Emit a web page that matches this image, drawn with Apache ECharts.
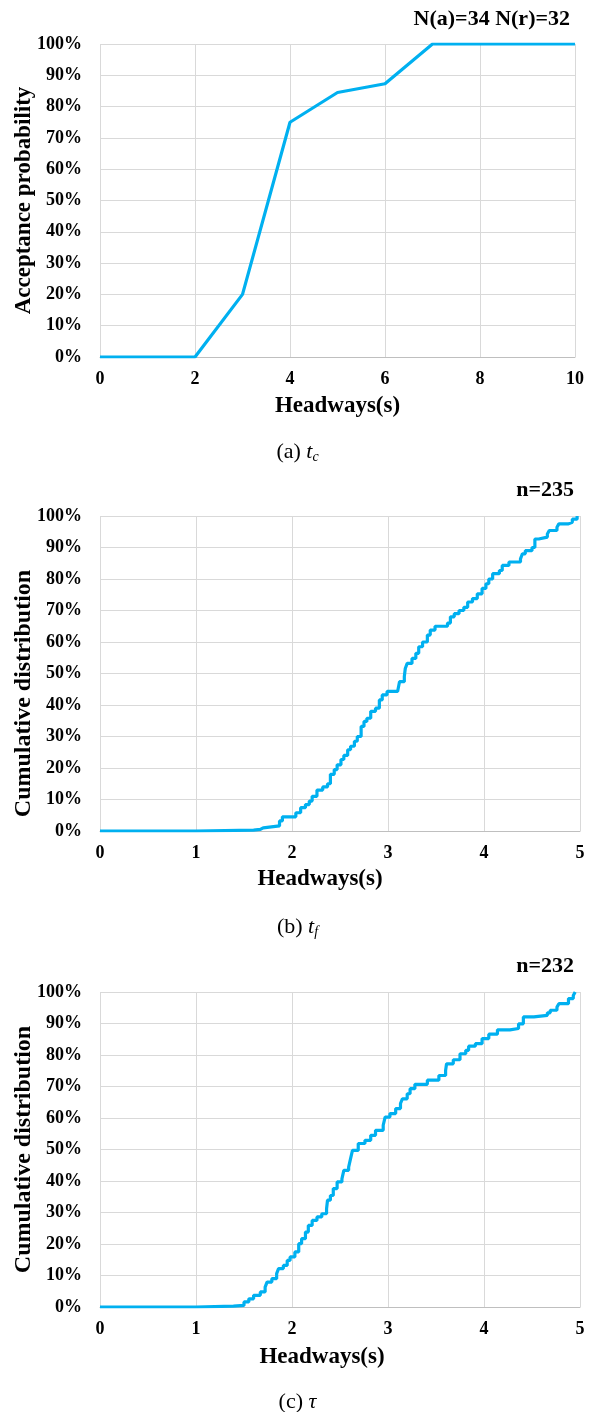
<!DOCTYPE html>
<html>
<head>
<meta charset="utf-8">
<script src="https://cdn.jsdelivr.net/npm/echarts@6/dist/echarts.min.js"></script>
<style>
html, body { margin: 0; padding: 0; background: #fff; }
#main { width: 595px; height: 1412px; }
</style>
</head>
<body>
<div id="main"></div>
<script>
// (a) t_c : acceptance probability
var tcX = [0, 1, 2, 3, 4, 5, 6, 7, 8, 9, 10];
var tcY = [0, 0, 0, 0.20, 0.75, 0.845, 0.873, 1, 1, 1, 1];

// (b) t_f : cumulative distribution, n=235
var tfX = [0, 1, 1.6, 1.67, 1.70, 1.87, 1.90, 2.04, 2.09, 2.14, 2.18, 2.21, 2.26, 2.32, 2.37, 2.40, 2.44, 2.47, 2.51, 2.54,
  2.58, 2.61, 2.65, 2.68, 2.72, 2.75, 2.78, 2.82, 2.87, 2.91, 2.94, 2.99, 3.10, 3.12, 3.17, 3.18, 3.20, 3.25, 3.29, 3.32,
  3.36, 3.41, 3.44, 3.49, 3.62, 3.65, 3.69, 3.74, 3.79, 3.83, 3.88, 3.93, 3.98, 4.02, 4.05, 4.09, 4.16, 4.19, 4.26, 4.38,
  4.40, 4.43, 4.50, 4.53, 4.57, 4.66, 4.68, 4.76, 4.78, 4.88, 4.92, 4.97];
var tfY = [0, 0.003, 0.005, 0.010, 0.016, 0.032, 0.045, 0.058, 0.074, 0.084, 0.095, 0.11, 0.13, 0.14, 0.15, 0.18, 0.195, 0.21, 0.227, 0.24,
  0.258, 0.269, 0.285, 0.30, 0.332, 0.348, 0.358, 0.38, 0.39, 0.416, 0.432, 0.443, 0.448, 0.474, 0.49, 0.516, 0.532, 0.548, 0.564, 0.585,
  0.60, 0.622, 0.638, 0.65, 0.66, 0.68, 0.69, 0.70, 0.71, 0.727, 0.738, 0.753, 0.77, 0.785, 0.80, 0.817, 0.827, 0.843, 0.854, 0.864,
  0.88, 0.89, 0.90, 0.927, 0.933, 0.943, 0.954, 0.964, 0.975, 0.98, 0.99, 1.0];

// (c) tau : cumulative distribution, n=232
var tauX = [0, 1, 1.39, 1.50, 1.55, 1.60, 1.67, 1.72, 1.74, 1.79, 1.84, 1.86, 1.91, 1.95, 1.98, 2.03, 2.07, 2.10, 2.14, 2.17,
  2.21, 2.26, 2.31, 2.36, 2.37, 2.40, 2.43, 2.47, 2.52, 2.54, 2.59, 2.61, 2.63, 2.69, 2.76, 2.82, 2.87, 2.95, 2.97, 3.02,
  3.08, 3.13, 3.15, 3.20, 3.23, 3.28, 3.41, 3.53, 3.60, 3.61, 3.68, 3.75, 3.81, 3.84, 3.91, 3.98, 4.05, 4.14, 4.27, 4.36,
  4.41, 4.52, 4.66, 4.69, 4.76, 4.78, 4.88, 4.93, 4.95];
var tauY = [0, 0.003, 0.005, 0.016, 0.026, 0.037, 0.048, 0.063, 0.079, 0.09, 0.106, 0.122, 0.132, 0.148, 0.159, 0.175, 0.201, 0.217, 0.238, 0.259,
  0.275, 0.286, 0.296, 0.312, 0.339, 0.354, 0.376, 0.397, 0.407, 0.434, 0.444, 0.471, 0.497, 0.519, 0.529, 0.545, 0.561, 0.577, 0.603, 0.614,
  0.63, 0.646, 0.661, 0.677, 0.693, 0.707, 0.72, 0.735, 0.751, 0.772, 0.785, 0.804, 0.815, 0.828, 0.836, 0.852, 0.866, 0.88, 0.884, 0.899,
  0.921, 0.926, 0.934, 0.942, 0.952, 0.963, 0.979, 0.989, 1.0];

function pairs(xs, ys) {
  return xs.map(function (x, i) { return [x, ys[i]]; });
}

var serif = 'Liberation Serif';
var lineColor = '#00b0f0';
var gridColor = '#d9d9d9';

function xAx(idx, max, interval, gap, shift) {
  return {
    type: 'value', gridIndex: idx, min: 0, max: max, interval: interval,
    name: 'Headways(s)', nameLocation: 'middle', nameGap: gap, nameMoveOverlap: false,
    nameTextStyle: { fontFamily: serif, fontWeight: 'bold', fontSize: 23, color: '#000', padding: [0, shift, 0, 0] },
    axisLine: { show: true, lineStyle: { color: '#bfbfbf', width: 1 } },
    axisTick: { show: false },
    axisLabel: { fontFamily: serif, fontWeight: 'bold', fontSize: 18, color: '#000', margin: 13 },
    splitLine: { show: true, lineStyle: { color: gridColor, width: 1 } }
  };
}

function yAx(idx, name, size, shift) {
  return {
    type: 'value', gridIndex: idx, min: 0, max: 1, interval: 0.1,
    name: name, nameLocation: 'middle', nameGap: 64, nameMoveOverlap: false,
    nameTextStyle: { fontFamily: serif, fontWeight: 'bold', fontSize: size, color: '#000', padding: [0, shift, 0, 0] },
    axisLine: { show: false },
    axisTick: { show: false },
    axisLabel: {
      fontFamily: serif, fontWeight: 'bold', fontSize: 18, color: '#000', margin: 18,
      formatter: function (v) { return Math.round(v * 100) + '%'; }
    },
    splitLine: { show: true, lineStyle: { color: gridColor, width: 1 } }
  };
}

function caption(top, text) {
  return {
    text: text, left: 'center', top: top, padding: 0,
    textStyle: {
      fontFamily: serif, fontWeight: 'normal', fontSize: 22, color: '#000',
      rich: {
        i: { fontFamily: serif, fontStyle: 'italic', fontSize: 22, color: '#000' },
        s: { fontFamily: serif, fontStyle: 'italic', fontSize: 14, color: '#000', padding: [10, 0, 0, 0] }
      }
    }
  };
}

function note(top, right, text) {
  return {
    text: text, right: right, top: top, padding: 0,
    textStyle: { fontFamily: serif, fontWeight: 'bold', fontSize: 22, color: '#000' }
  };
}

var myChart = echarts.init(document.getElementById('main'));

var option = {
  backgroundColor: '#fff',
  animation: false,
  title: [
    note(8, 25, 'N(a)=34 N(r)=32'),
    note(479, 21, 'n=235'),
    note(955, 21, 'n=232'),
    caption(440, '(a) {i|t}{s|c}'),
    caption(915, '(b) {i|t}{s|f}'),
    caption(1391, '(c) {i|τ}')
  ],
  grid: [
    { left: 100, top: 44, width: 475, height: 313, outerBoundsMode: 'none' },
    { left: 100, top: 516, width: 480, height: 315, outerBoundsMode: 'none' },
    { left: 100, top: 992, width: 480, height: 315, outerBoundsMode: 'none' }
  ],
  xAxis: [xAx(0, 10, 2, 38, 0), xAx(1, 5, 1, 37, 40), xAx(2, 5, 1, 39, 36)],
  yAxis: [
    yAx(0, 'Acceptance probability', 23, 0),
    yAx(1, 'Cumulative distribution', 24, 40),
    yAx(2, 'Cumulative distribution', 24, 0)
  ],
  series: [
    {
      name: 'tc', type: 'line', xAxisIndex: 0, yAxisIndex: 0,
      data: pairs(tcX, tcY), showSymbol: false,
      lineStyle: { color: lineColor, width: 3.2 }
    },
    {
      name: 'tf', type: 'line', xAxisIndex: 1, yAxisIndex: 1, step: 'end',
      data: pairs(tfX, tfY), showSymbol: false,
      lineStyle: { color: lineColor, width: 3.2 }
    },
    {
      name: 'tau', type: 'line', xAxisIndex: 2, yAxisIndex: 2, step: 'end',
      data: pairs(tauX, tauY), showSymbol: false,
      lineStyle: { color: lineColor, width: 3.2 }
    }
  ]
};

myChart.setOption(option);
</script>
</body>
</html>
